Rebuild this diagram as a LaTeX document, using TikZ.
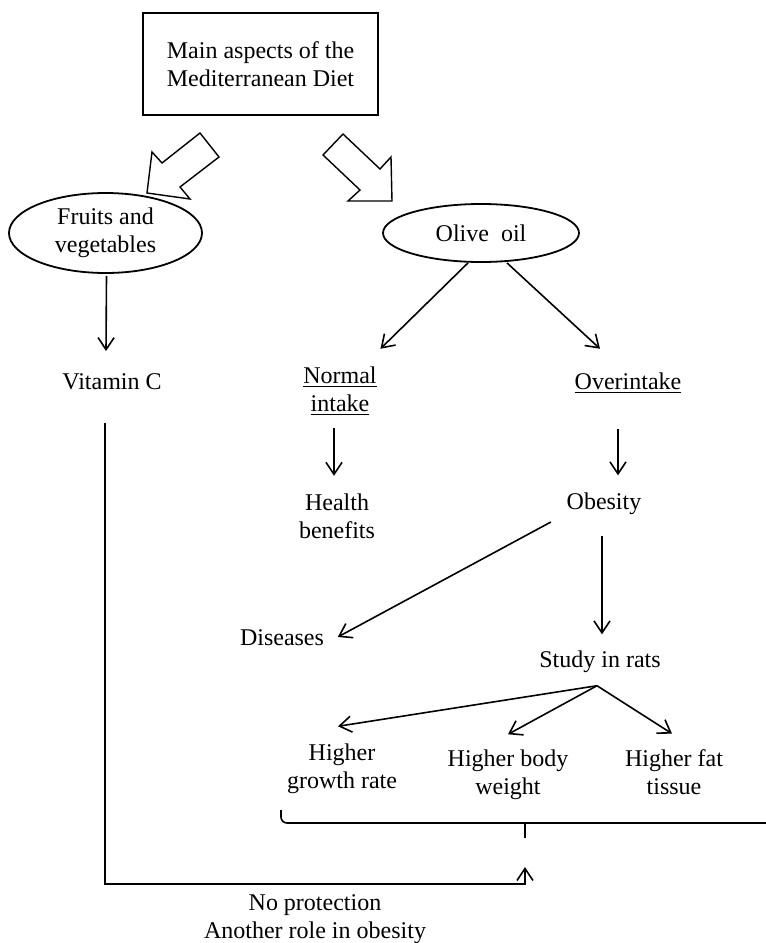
\documentclass[tikz,border=0pt]{standalone}
\usepackage{fontspec}
\setmainfont{Liberation Serif}
\usetikzlibrary{shapes.geometric,arrows.meta}

\begin{document}
\begin{tikzpicture}[x=0.5pt, y=-0.5pt, line width=0.8pt,
        >={Straight Barb[length=6pt,width=8pt]},
        txt/.style={align=center, inner sep=0pt, font=\fontsize{12}{14}\selectfont},
        oval/.style={ellipse, draw, line width=0.9pt, txt},
        hollow/.style={draw, line width=0.7pt, fill=white, line join=miter}]
        \useasboundingbox (0,0) rectangle (766,943);

        \node (main) [rectangle, draw, line width=1pt, minimum width=117.5pt, minimum height=51pt, txt] at (260.5,64) {Main aspects of the\\Mediterranean Diet};
        \node (fruits) [oval, minimum width=96.5pt, minimum height=40pt] at (105.5,233) {Fruits and\\vegetables};
        \node (olive) [oval, minimum width=98pt, minimum height=29pt] at (481,233) {Olive\ \ oil};

        % block arrows from the top box
        \draw[hollow] (200,133) -- (219,157) -- (180,187) -- (190,199) -- (147,193) -- (152,152) -- (162,163) -- cycle;
        \draw[hollow] (343,134) -- (380,169) -- (391,157) -- (392,201) -- (348,201) -- (360,190) -- (323,155) -- cycle;

        \node (vitc) [txt] at (112,382) {Vitamin C};
        \node (normal) [txt] at (340,391) {\underline{Normal}\\\underline{intake}};
        \node (over) [txt] at (628,383) {\underline{Overintake}};
        \node (health) [txt] at (337,516) {Health\\benefits};
        \node (obesity) [txt] at (604,504) {Obesity};
        \node (diseases) [txt] at (282,638) {Diseases};
        \node (rats) [txt] at (600,662) {Study in rats};
        \node (growth) [txt] at (342,769) {Higher\\growth rate};
        \node (body) [txt] at (508,775) {Higher body\\weight};
        \node (fat) [txt] at (674,772) {Higher fat\\tissue};
        \node (noprot) [txt] at (315,919) {No protection\\Another role in obesity};

        \draw[->] ([shift={(1,2)}]fruits.south) -- ([shift={(-6,-22)}]vitc.north);
        \draw[->] ([shift={(-13,0)}]olive.south) -- ([shift={(3,-17)}]normal.north east);
        \draw[->] ([shift={(26,0)}]olive.south) -- ([shift={(-28,-23)}]over.north);
        \draw[->] ([shift={(-6,12)}]normal.south) -- ([shift={(-3,-17)}]health.north);
        \draw[->] ([shift={(-10,35)}]over.south) -- ([shift={(14,-17)}]obesity.north);
        \draw[->] ([shift={(-15,18)}]obesity.west) -- ([shift={(13,-1)}]diseases.east);
        \draw[->] ([shift={(-2,20)}]obesity.south) -- ([shift={(2,-16)}]rats.north);
        \coordinate (fan) at ([shift={(-3,12)}]rats.south);
        \draw[->] (fan) -- ([shift={(-4,-17)}]growth.north);
        \draw[->] (fan) -- ([shift={(0,-15)}]body.north);
        \draw[->] (fan) -- ([shift={(-2,-15)}]fat.north);

        % brace under the three results
        \coordinate (bracetip) at (525,838);
        \draw[rounded corners=3pt] (281,810) -- (281,823) -- (766,823);
        \draw (bracetip |- 0,823) -- (bracetip);
        \draw[->] ([shift={(-7,32)}]vitc.south) |- ([shift={(0,46)}]bracetip) -- ([shift={(0,29)}]bracetip);
\end{tikzpicture}
\end{document}
